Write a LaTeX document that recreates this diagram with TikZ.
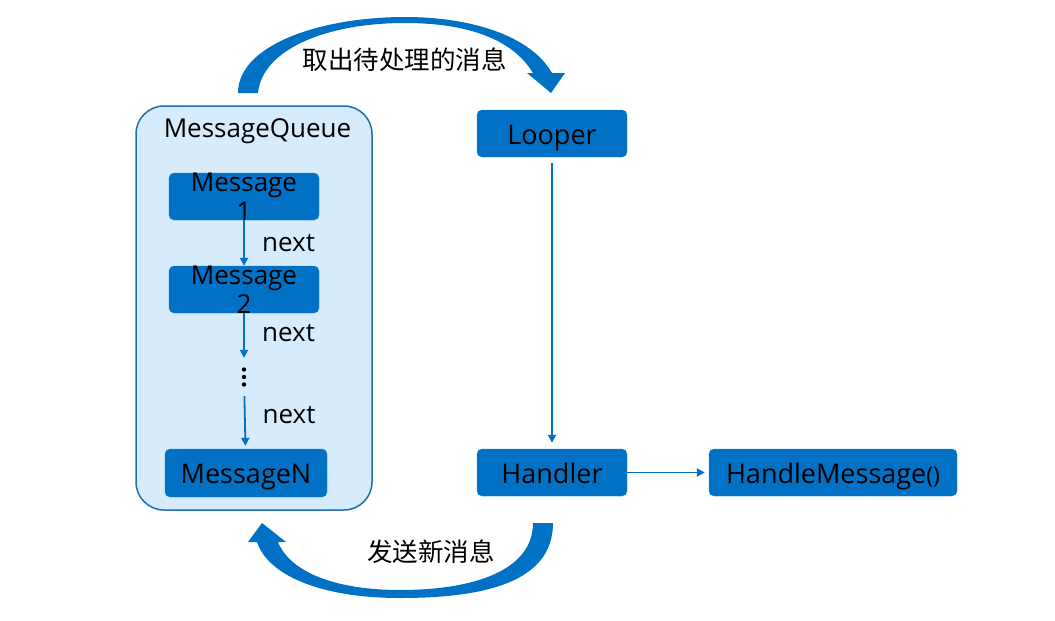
\documentclass[tikz,border=0pt]{standalone}
\usepackage{fontspec}
\setmainfont{Open Sans}
\newfontfamily\cjk{Noto Sans CJK SC}
\usetikzlibrary{arrows.meta,positioning}
\tikzset{>=Stealth}
\definecolor{boxblue}{RGB}{0,113,196}
\definecolor{queuefill}{RGB}{214,235,251}
\definecolor{queueline}{RGB}{30,110,175}

\begin{document}
\begin{tikzpicture}[x=1pt, y=-1pt,
    queue/.style={draw=queueline, line width=1.5pt, fill=queuefill, rounded corners=28pt, minimum width=236pt, minimum height=404pt},
    msg/.style={draw=boxblue!85!white, fill=boxblue, rounded corners=5pt, minimum width=150pt, minimum height=47pt, inner sep=0pt},
    lbl/.style={font=\fontsize{27}{30}\selectfont, text height=21pt, text depth=0pt},
    small/.style={font=\fontsize{26}{29}\selectfont, inner sep=0pt},
    nxt/.style={font=\fontsize{26}{29}\selectfont, inner sep=0pt, anchor=base west},
    link/.style={draw=boxblue, line width=1.8pt, -{Triangle[length=8pt,width=8pt]}},
    cjktxt/.style={font=\cjk\fontsize{25.5}{30}\selectfont, inner sep=0pt},
    sweep/.style={fill=boxblue}
  ]
  \useasboundingbox (0,0) rectangle (1055,621);
  % message queue and its messages
  \node[queue] (mq) at (254,308) {};
  \node[small, anchor=base] (mqt) at (257.5,137.3) {MessageQueue};
  \node[msg] (m1) at (244,196.5) {};
  \node[small, align=center] (m1t) at (m1) {Message\\1};
  \node[msg] (m2) at (244,289.5) {};
  \node[small, align=center] (m2t) at (m2) {Message\\2};
  \node[minimum height=38pt, inner sep=0pt] (dots) at (244,377) {};
  \foreach \d in {-7.5,0,7.5}
    \fill (dots.center) ++(0,\d) circle (2.2pt);
  \node[msg, lbl, minimum width=162pt, minimum height=48pt] (mN) at (246,473) {MessageN};
  \draw[link] (m1) -- (m2);
  \draw[link] (m2) -- (dots);
  \draw[link, shorten >=3pt] (dots) -- (mN);
  \node[nxt] (n1) at (262,251.7) {next};
  \node[nxt] (n2) at (262,341.7) {next};
  \node[nxt] (n3) at (262.5,423.3) {next};
  % looper and handler
  \node[msg, lbl] (looper) at (552,133.5) {Looper};
  \node[msg, lbl] (handler) at (552,472.5) {Handler};
  \node[msg, lbl, minimum width=248pt] (handle) at (833,472.5) {HandleMessage{\fontsize{23}{28}\selectfont()}};
  \draw[link, shorten <=6pt, shorten >=6pt] (looper) -- (handler);
  \draw[link, shorten >=4pt] (handler) -- (handle);
  % curved arrows
  \fill[sweep] (238,93) .. controls (238,45) and (320,17) .. (405,17)
    .. controls (470,17) and (530,35) .. (552,73)
    -- (565,73) -- (551,93) -- (527,73) -- (533,73)
    .. controls (512,38) and (465,23) .. (405,23)
    .. controls (325,23) and (262,50) .. (258,93) -- cycle;
  \node[cjktxt] (take) at (404.5,60) {取出待处理的消息};
  \fill[sweep] (553,523) .. controls (553,582) and (485,598) .. (400,598)
    .. controls (320,598) and (268,575) .. (257,542)
    -- (248,542) -- (262,523) -- (286,542) -- (278,542)
    .. controls (290,572) and (335,590) .. (400,590)
    .. controls (475,590) and (533,570) .. (533,523) -- cycle;
  \node[cjktxt] (send) at (431,552) {发送新消息};
\end{tikzpicture}
\end{document}
